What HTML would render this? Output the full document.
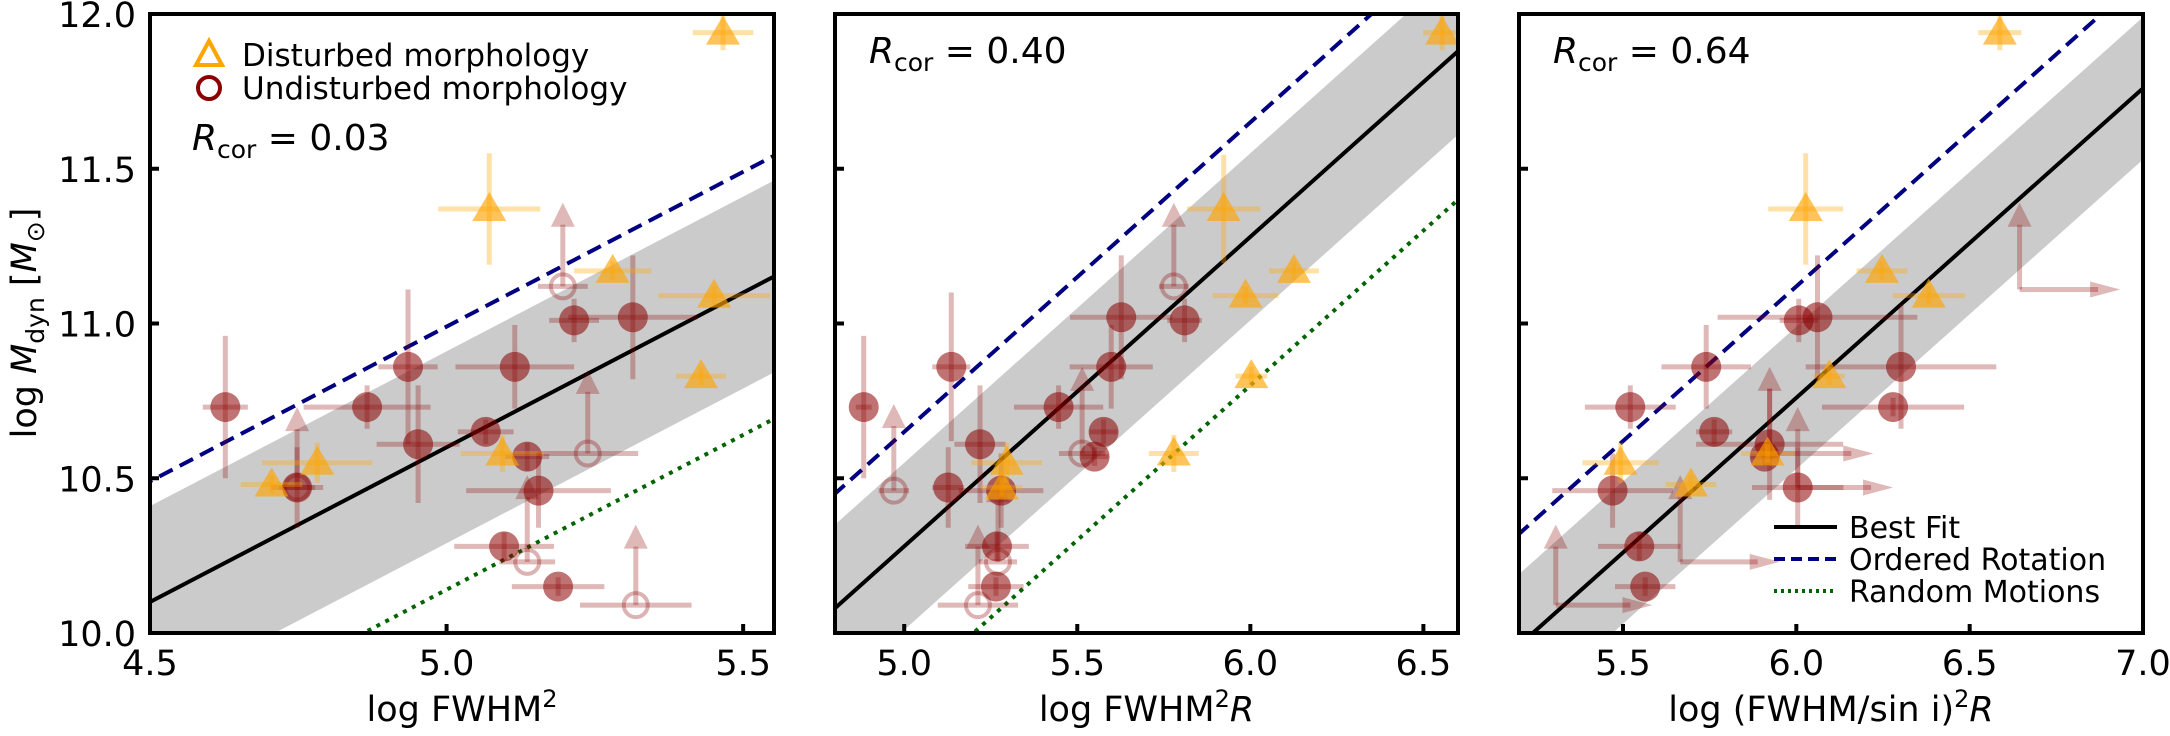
<!DOCTYPE html>
<html><head><meta charset="utf-8"><style>
html,body{margin:0;padding:0;background:#fff;width:2170px;height:736px;overflow:hidden;}
svg{display:block;font-family:"DejaVu Sans","Liberation Sans",sans-serif;}
</style></head><body>
<svg id="chart" width="2170" height="736" viewBox="0 0 2170 736" xmlns="http://www.w3.org/2000/svg"></svg>
<script>
// ---- data (x, y, xerr, yerr) ----
const p1Filled=[[4.627,10.73,0.038,0.23],[4.748,10.47,0.044,0.13],[4.866,10.73,0.107,0.07],[4.935,10.86,0.05,0.25],[4.952,10.61,0.07,0.19],[5.066,10.65,0.047,0.04],[5.115,10.86,0.10,0.135],[5.136,10.57,0.037,0.045],[5.155,10.46,0.122,0.12],[5.097,10.28,0.084,0.045],[5.188,10.15,0.078,0.03],[5.215,11.01,0.042,0.07],[5.314,11.02,0.109,0.20]];
const p1Limits=[[5.196,11.12,0.042,11.39],[5.238,10.58,0.085,10.85],[5.136,10.23,0.047,10.51],[5.319,10.09,0.094,10.35],[4.748,10.47,0.03,10.73]];
const p1Tri=[[5.466,11.94,0.051,0.057],[5.072,11.37,0.086,0.18],[5.28,11.17,0.065,0.03],[5.451,11.09,0.094,0.03],[5.429,10.83,0.042,0.03],[4.782,10.55,0.093,0.065],[4.705,10.48,0.052,0.03],[5.094,10.58,0.07,0.06]];
const p2Filled=[[4.883,10.73,0.023,0.23],[5.136,10.86,0.055,0.24],[5.219,10.61,0.074,0.19],[5.127,10.47,0.046,0.13],[5.28,10.46,0.122,0.12],[5.268,10.28,0.092,0.045],[5.265,10.15,0.08,0.03],[5.446,10.73,0.129,0.07],[5.576,10.65,0.04,0.04],[5.55,10.57,0.04,0.03],[5.598,10.86,0.12,0.135],[5.627,11.02,0.148,0.20],[5.81,11.01,0.05,0.07]];
const p2Limits=[[5.779,11.12,0.043,11.39],[5.514,10.58,0.067,10.86],[4.97,10.46,0.044,10.74],[5.271,10.23,0.055,10.50],[5.213,10.09,0.116,10.35]];
const p2Tri=[[6.554,11.94,0.055,0.057],[5.923,11.37,0.106,0.175],[6.126,11.17,0.072,0.03],[5.986,11.09,0.095,0.03],[6.003,10.83,0.046,0.03],[5.779,10.58,0.072,0.06],[5.296,10.55,0.102,0.065],[5.282,10.47,0.06,0.03]];
const p3Filled=[[5.521,10.73,0.131,0.07],[5.47,10.46,0.174,0.12],[5.547,10.28,0.119,0.045],[5.564,10.15,0.087,0.03],[5.74,10.86,0.129,0.135],[5.763,10.65,0.052,0.04],[5.923,10.61,0.212,0.18],[5.909,10.57,0.04,0.03],[6.007,11.01,0.055,0.07],[6.061,11.02,0.288,0.20],[6.302,10.86,0.275,0.20],[6.279,10.73,0.205,0.03],[6.004,10.47,0.132,0.13]];
const p3LimitsXY=[[6.644,11.11,6.934,11.39],[5.923,10.58,6.222,10.86],[6.004,10.47,6.279,10.73],[5.665,10.23,5.952,10.51],[5.306,10.09,5.585,10.35]];
const p3Tri=[[6.587,11.94,0.062,0.057],[6.027,11.37,0.108,0.18],[6.247,11.17,0.073,0.03],[6.382,11.09,0.104,0.03],[6.095,10.83,0.045,0.03],[5.917,10.58,0.076,0.03],[5.493,10.55,0.11,0.065],[5.696,10.48,0.073,0.03]];
// line intercepts (slope 1): best fit, ordered rotation, random motions; band half width
const fitIntercepts=[5.60,5.28,4.76];
const orderedIntercepts=[5.99,5.65,5.12];
const randomIntercepts=[5.14,4.80,null];
const bandHalf=[0.31,0.27,0.23];
const rcorLabels=["0.03","0.40","0.64"];
const xRanges=[[4.5,5.552],[4.8,6.6],[5.2,7.0]];
const xTicks=[[4.5,5.0,5.5],[5.0,5.5,6.0,6.5],[5.5,6.0,6.5,7.0]];
const xTickLabels=[["4.5","5.0","5.5"],["5.0","5.5","6.0","6.5"],["5.5","6.0","6.5","7.0"]];
const yTicks=[10.0,10.5,11.0,11.5,12.0];
const yTickLabels=["10.0","10.5","11.0","11.5","12.0"];
const yRange=[10.0,12.0];

const NS="http://www.w3.org/2000/svg";
const svg=document.getElementById('chart');
function mk(tag,attrs,parent){const e=document.createElementNS(NS,tag);for(const k in attrs)e.setAttribute(k,attrs[k]);(parent||svg).appendChild(e);return e;}
const panels=[{x0:150,x1:774},{x0:835,x1:1458},{x0:1519,x1:2143}];
const Y0=14,Y1=633;
const RED="#8b0000",ORG="#ffa500";
const defs=mk('defs',{});
panels.forEach((p,i)=>{const c=mk('clipPath',{id:'clip'+i},defs);mk('rect',{x:p.x0,y:Y0,width:p.x1-p.x0,height:Y1-Y0},c);});

const allFilled=[p1Filled,p2Filled,p3Filled],allTri=[p1Tri,p2Tri,p3Tri];
const xTitles=['log FWHM<tspan dy="-14" font-size="24">2</tspan>','log FWHM<tspan dy="-14" font-size="24">2</tspan><tspan dy="14" font-style="italic">R</tspan>','log (FWHM/sin i)<tspan dy="-14" font-size="24">2</tspan><tspan dy="14" font-style="italic">R</tspan>'];

function arrowV(g,x,y,yt){
  const l=mk('line',{x1:x,y1:y,x2:x,y2:yt+22,stroke:RED,'stroke-opacity':0.28,'stroke-width':5},g);
  
  const h=mk('polygon',{points:`${x-12},${yt+24} ${x+12},${yt+24} ${x},${yt}`,fill:RED,'fill-opacity':0.28},g);
  
}
function arrowH(g,x,y,xt){
  const l=mk('line',{x1:x,y1:y,x2:xt-22,y2:y,stroke:RED,'stroke-opacity':0.28,'stroke-width':5},g);
  
  const h=mk('polygon',{points:`${xt-30},${y-8} ${xt-30},${y+8} ${xt},${y}`,fill:RED,'fill-opacity':0.28},g);
  
}

panels.forEach((p,i)=>{
  const [xa,xb]=xRanges[i];
  const sx=v=>p.x0+(v-xa)/(xb-xa)*(p.x1-p.x0);
  const sy=v=>Y1-(v-yRange[0])/(yRange[1]-yRange[0])*(Y1-Y0);
  const g=mk('g',{'clip-path':`url(#clip${i})`});
  
  const bx0=xa-0.5,bx1=xb+0.5,bi=fitIntercepts[i],bh=bandHalf[i];
  const band=mk('polygon',{points:`${sx(bx0)},${sy(bx0+bi+bh)} ${sx(bx1)},${sy(bx1+bi+bh)} ${sx(bx1)},${sy(bx1+bi-bh)} ${sx(bx0)},${sy(bx0+bi-bh)}`,fill:'#cbcbcb'},g);
  
  function line(ic,attrs,name){const l=mk('line',Object.assign({x1:sx(bx0),y1:sy(bx0+ic),x2:sx(bx1),y2:sy(bx1+ic),'stroke-width':4},attrs),g);}
  line(orderedIntercepts[i],{stroke:'#000080','stroke-dasharray':'15 8'},'ordered-rotation-line');
  if(randomIntercepts[i]!==null)line(randomIntercepts[i],{stroke:'#006400','stroke-dasharray':'4 6'},'random-motions-line');
  line(fitIntercepts[i],{stroke:'#000'},'best-fit-line');
  if(i<2){
    const L=i===0?p1Limits:p2Limits;
    L.forEach(d=>{
      const x=sx(d[0]),y=sy(d[1]);
      const eb=mk('line',{x1:sx(d[0]-d[2]),y1:y,x2:sx(d[0]+d[2]),y2:y,stroke:RED,'stroke-opacity':0.28,'stroke-width':5},g);
      
      arrowV(g,x,y,sy(d[3]));
      const c=mk('circle',{cx:x,cy:y,r:12,fill:'none',stroke:RED,'stroke-opacity':0.3,'stroke-width':4},g);
      
    });
  } else {
    p3LimitsXY.forEach(d=>{
      const x=sx(d[0]),y=sy(d[1]);
      arrowV(g,x,y,sy(d[3]));
      arrowH(g,x,y,sx(d[2]));
    });
  }
  allFilled[i].forEach(d=>{
    const x=sx(d[0]),y=sy(d[1]);
    const ex=mk('line',{x1:sx(d[0]-d[2]),y1:y,x2:sx(d[0]+d[2]),y2:y,stroke:RED,'stroke-opacity':0.28,'stroke-width':5},g);
    
    const ey=mk('line',{x1:x,y1:sy(d[1]-d[3]),x2:x,y2:sy(d[1]+d[3]),stroke:RED,'stroke-opacity':0.28,'stroke-width':5},g);
    
    const c=mk('circle',{cx:x,cy:y,r:15,fill:RED,'fill-opacity':0.55},g);
    
  });
  allTri[i].forEach(d=>{
    const x=sx(d[0]),y=sy(d[1]);
    const ex=mk('line',{x1:sx(d[0]-d[2]),y1:y,x2:sx(d[0]+d[2]),y2:y,stroke:ORG,'stroke-opacity':0.35,'stroke-width':5},g);
    
    const ey=mk('line',{x1:x,y1:sy(d[1]-d[3]),x2:x,y2:sy(d[1]+d[3]),stroke:ORG,'stroke-opacity':0.35,'stroke-width':5},g);
    
    const t=mk('polygon',{points:`${x},${y-17} ${x-17},${y+12} ${x+17},${y+12}`,fill:ORG,'fill-opacity':0.65},g);
    
  });
  const fr=mk('rect',{x:p.x0,y:Y0,width:p.x1-p.x0,height:Y1-Y0,fill:'none',stroke:'#000','stroke-width':4});
  
  xTicks[i].forEach((v,k)=>{
    const x=sx(v);
    const t=mk('line',{x1:x,y1:Y1,x2:x,y2:Y1-9,stroke:'#000','stroke-width':4});
    
    const tl=mk('text',{x:x,y:675,'text-anchor':'middle','font-size':35});
    tl.textContent=xTickLabels[i][k];
    
  });
  yTicks.forEach((v,k)=>{
    const y=sy(v);
    const t=mk('line',{x1:p.x0,y1:y,x2:p.x0+9,y2:y,stroke:'#000','stroke-width':4});
    
    if(i===0){
      const tl=mk('text',{x:136,y:y+13,'text-anchor':'end','font-size':35});
      tl.textContent=yTickLabels[k];
      
    }
  });
  const xt=mk('text',{x:(p.x0+p.x1)/2,y:721,'text-anchor':'middle','font-size':35});
  xt.innerHTML=xTitles[i];
  
  const rx=i===0?192:p.x0+34, ry=i===0?150:63;
  const rt=mk('text',{x:rx,y:ry,'font-size':36});
  rt.innerHTML='<tspan font-style="italic">R</tspan><tspan font-size="25" dy="8">cor</tspan><tspan dy="-8"> = '+rcorLabels[i]+'</tspan>';
  
});

const yt=mk('text',{x:0,y:0,'text-anchor':'middle','font-size':35,transform:'translate(36,323) rotate(-90)'});
yt.innerHTML='log <tspan font-style="italic">M</tspan><tspan font-size="25" dy="8">dyn</tspan><tspan dy="-8"> [</tspan><tspan font-style="italic">M</tspan><tspan font-size="25" dy="8">⊙</tspan><tspan dy="-8">]</tspan>';


const lg=mk('g',{});

const lt=mk('polygon',{points:'209,41 196,65 222,65',fill:'none',stroke:ORG,'stroke-width':4},lg);

const lt1=mk('text',{x:242,y:66,'font-size':31},lg);lt1.textContent='Disturbed morphology';

const lc=mk('circle',{cx:209,cy:88,r:11,fill:'none',stroke:RED,'stroke-width':4},lg);

const lt2=mk('text',{x:242,y:99,'font-size':31},lg);lt2.textContent='Undisturbed morphology';


const lg3=mk('g',{});

const rows=[['Best Fit',{stroke:'#000'}],['Ordered Rotation',{stroke:'#000080','stroke-dasharray':'11 6'}],['Random Motions',{stroke:'#006400','stroke-dasharray':'3 4'}]];
const rowY=[527,559,591];
rows.forEach((r,k)=>{
  const l=mk('line',Object.assign({x1:1774,y1:rowY[k],x2:1837,y2:rowY[k],'stroke-width':4},r[1]),lg3);
  
  const t=mk('text',{x:1849,y:rowY[k]+11,'font-size':30},lg3);t.textContent=r[0];
  
});
</script>
</body></html>
